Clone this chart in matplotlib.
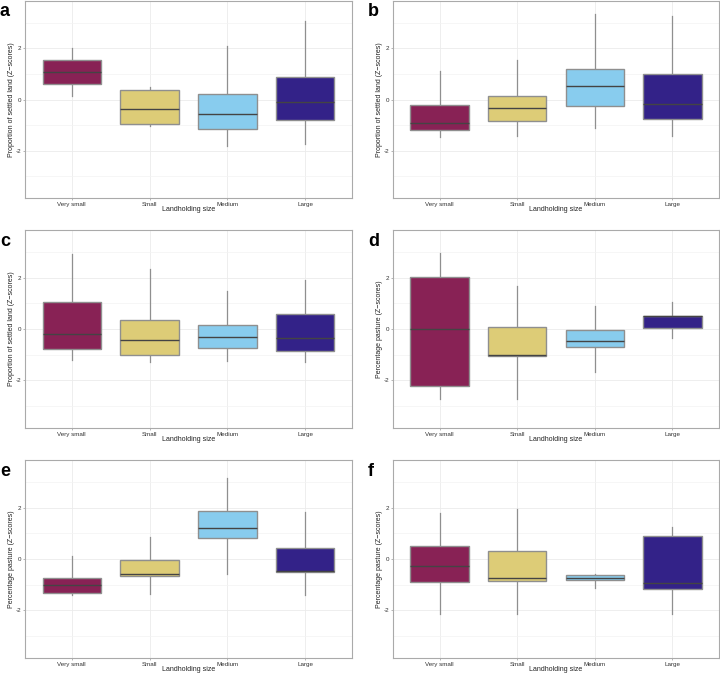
import matplotlib
matplotlib.use("Agg")
import matplotlib.pyplot as plt
from matplotlib.ticker import MultipleLocator

plt.rcParams['font.family'] = ['Liberation Sans', 'DejaVu Sans']

categories = ["Very small", "Small", "Medium", "Large"]
colors = ["#882255", "#DDCC77", "#88CCEE", "#332288"]

# each panel: whislo, q1, median, q3, whishi per category
a_lo = [0.13, -1.05, -1.80, -1.75]
a_q1 = [0.61, -0.96, -1.14, -0.82]
a_md = [1.08, -0.38, -0.57, -0.09]
a_q3 = [1.55, 0.39, 0.22, 0.88]
a_hi = [2.00, 0.48, 2.10, 3.08]

b_lo = [-1.48, -1.43, -1.12, -1.44]
b_q1 = [-1.21, -0.83, -0.27, -0.75]
b_md = [-0.92, -0.35, 0.52, -0.18]
b_q3 = [-0.22, 0.13, 1.19, 1.01]
b_hi = [1.10, 1.55, 3.36, 3.27]

c_lo = [-1.19, -1.29, -1.25, -1.29]
c_q1 = [-0.79, -1.01, -0.75, -0.86]
c_md = [-0.19, -0.43, -0.30, -0.36]
c_q3 = [1.06, 0.34, 0.15, 0.57]
c_hi = [2.90, 2.34, 1.47, 1.91]

d_lo = [-2.72, -2.72, -1.68, -0.36]
d_q1 = [-2.22, -1.06, -0.71, 0.02]
d_md = [-0.01, -1.00, -0.46, 0.50]
d_q3 = [2.04, 0.06, -0.04, 0.52]
d_hi = [2.97, 1.68, 0.88, 1.05]

e_lo = [-1.41, -1.37, -0.59, -1.39]
e_q1 = [-1.32, -0.66, 0.81, -0.49]
e_md = [-1.03, -0.59, 1.19, -0.47]
e_q3 = [-0.74, -0.03, 1.87, 0.44]
e_hi = [0.13, 0.85, 3.15, 1.81]

f_lo = [-2.14, -2.14, -1.12, -2.14]
f_q1 = [-0.90, -0.84, -0.83, -1.16]
f_md = [-0.27, -0.74, -0.72, -0.95]
f_q3 = [0.52, 0.30, -0.62, 0.90]
f_hi = [1.77, 1.94, -0.57, 1.23]

y_ticks = [-2, 0, 2]
y_ticklabels = ["-2", "0", "2"]

panels = [
    ("a", "Proportion of settled land (Z\u2212scores)", (a_lo, a_q1, a_md, a_q3, a_hi)),
    ("b", "Proportion of settled land (Z\u2212scores)", (b_lo, b_q1, b_md, b_q3, b_hi)),
    ("c", "Proportion of settled land (Z\u2212scores)", (c_lo, c_q1, c_md, c_q3, c_hi)),
    ("d", "Percentage pasture (Z\u2212scores)", (d_lo, d_q1, d_md, d_q3, d_hi)),
    ("e", "Percentage pasture (Z\u2212scores)", (e_lo, e_q1, e_md, e_q3, e_hi)),
    ("f", "Percentage pasture (Z\u2212scores)", (f_lo, f_q1, f_md, f_q3, f_hi)),
]

W, H = 720, 673
fig = plt.figure(figsize=(W / 100, H / 100), dpi=100)

col_x = [(25, 352), (393, 719)]
row_y = [(1, 198), (230, 428), (460, 658)]

for i, (lab, ylab, vals) in enumerate(panels):
    r, c = divmod(i, 2)
    x0, x1 = col_x[c]
    y0, y1 = row_y[r]
    aw, ah = x1 - x0, y1 - y0
    ax = fig.add_axes([x0 / W, 1 - y1 / H, aw / W, ah / H])
    lo, q1, md, q3, hi = vals
    stats = []
    for k in range(len(categories)):
        stats.append(dict(whislo=lo[k], q1=q1[k], med=md[k], q3=q3[k], whishi=hi[k], fliers=[]))
    ax.set_axisbelow(True)
    bp = ax.bxp(stats, positions=range(1, 5), widths=0.75, patch_artist=True,
                showcaps=False, showfliers=False,
                boxprops=dict(edgecolor="#8f8f8f", linewidth=1.0),
                whiskerprops=dict(color="#8f8f8f", linewidth=0.9),
                medianprops=dict(color="#444444", linewidth=1.0))
    for patch, col in zip(bp['boxes'], colors):
        patch.set_facecolor(col)
        patch.set_zorder(2)
    for w in bp['whiskers']:
        w.set_zorder(1.5)
    for m in bp['medians']:
        m.set_zorder(3)
    ax.set_xlim(0.4, 4.6)
    ax.set_ylim(-3.85, 3.85)
    ax.set_xticks(range(1, 5))
    ax.set_xticklabels(categories)
    ax.yaxis.set_minor_locator(MultipleLocator(1))
    ax.set_yticks(y_ticks)
    ax.set_yticklabels(y_ticklabels)
    ax.grid(True, which="major", color="#ebebeb", linewidth=0.6)
    ax.grid(True, which="minor", axis="y", color="#f3f3f3", linewidth=0.5)
    ax.tick_params(axis="both", which="major", labelsize=4.5, length=1.5, width=0.5,
                   color="#999999", pad=1.2, labelcolor="#333333")
    ax.tick_params(axis="y", which="minor", length=0)
    for s in ax.spines.values():
        s.set_color("#aaaaaa")
        s.set_linewidth(0.8)
    ax.set_xlabel("Landholding size", fontsize=5.0, color="#222222", va="center")
    ax.xaxis.set_label_coords(0.5, -11.5 / ah)
    ax.set_ylabel(ylab, fontsize=5.0, color="#222222", va="center")
    ax.yaxis.set_label_coords(-13.5 / aw, 0.5)
    fig.text((x0 - 25) / W, 1 - (y0 + 11) / H, lab, fontsize=13, fontweight="bold",
             ha="left", va="center")

fig.savefig("out.png", dpi=100)
